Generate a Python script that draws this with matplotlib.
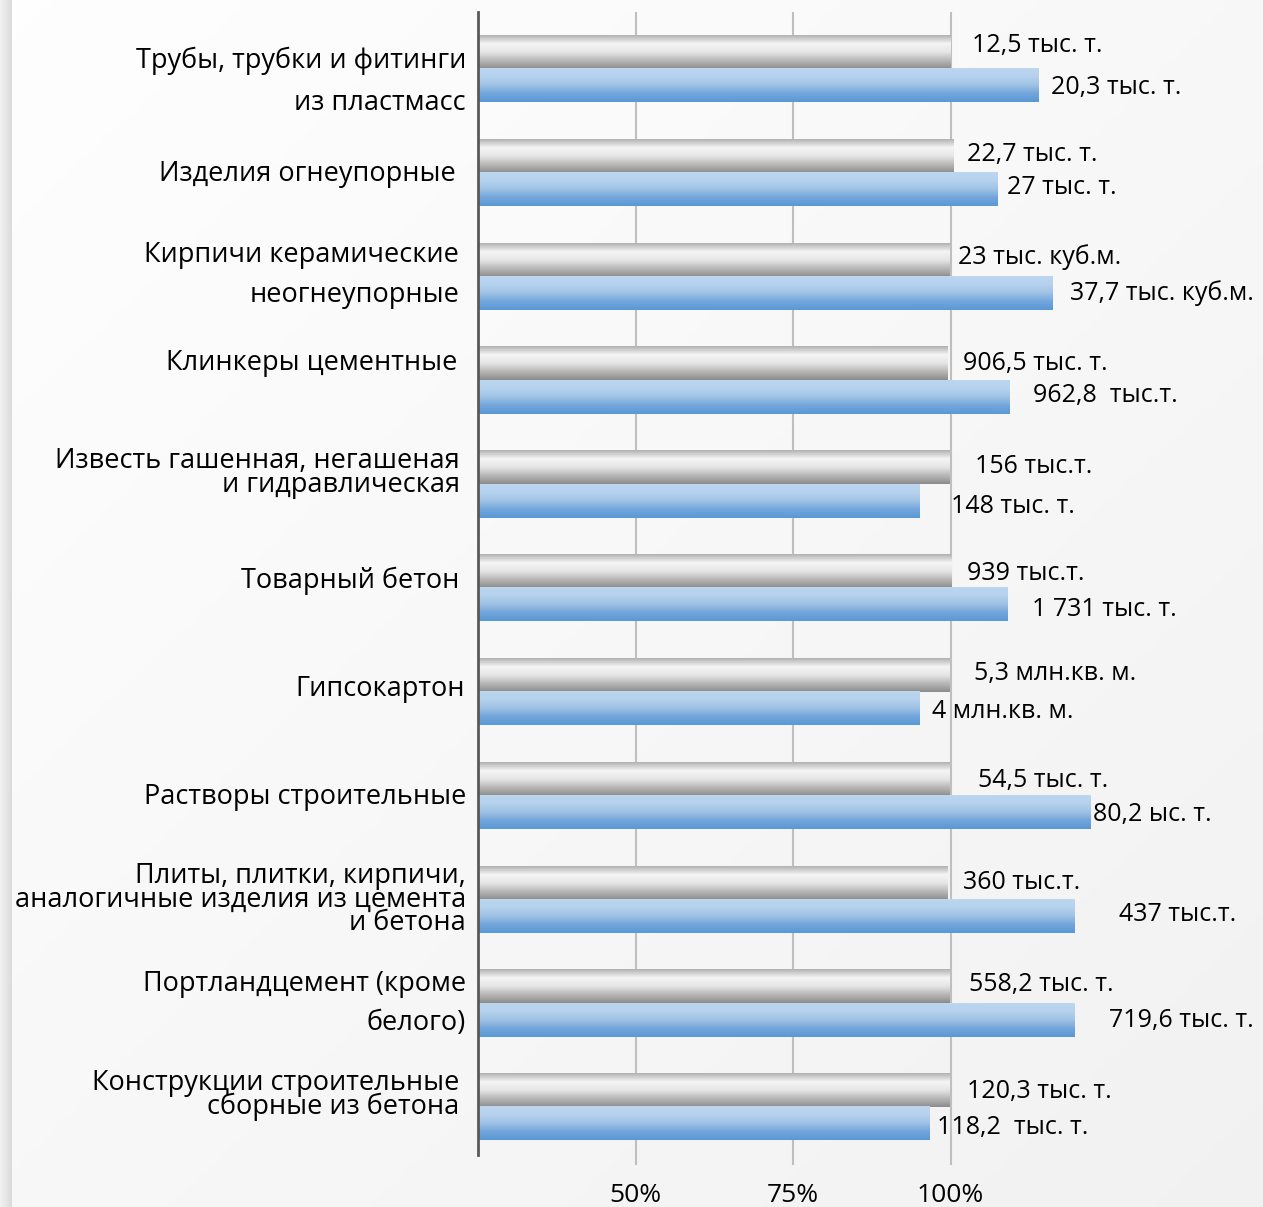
import numpy as np
import matplotlib
matplotlib.use("Agg")
import matplotlib.pyplot as plt

plt.rcParams['font.family'] = ['Open Sans', 'DejaVu Sans']

# категории (сверху вниз)
categories = [
    "Трубы, трубки и фитинги\nиз пластмасс",
    "Изделия огнеупорные",
    "Кирпичи керамические\nнеогнеупорные",
    "Клинкеры цементные",
    "Известь гашенная, негашеная\nи гидравлическая",
    "Товарный бетон",
    "Гипсокартон",
    "Растворы строительные",
    "Плиты, плитки, кирпичи,\nаналогичные изделия из цемента\nи бетона",
    "Портландцемент (кроме\nбелого)",
    "Конструкции строительные\nсборные из бетона",
]
# прошлый год = 100%, текущий в % (читается с рисунка)
prev_pct = [100, 100.5, 99.8, 99.5, 99.8, 100.2, 99.8, 99.8, 99.6, 99.8, 99.8]
curr_pct = [114.0, 107.5, 116.2, 109.4, 95.1, 109.0, 95.1, 122.2, 119.7, 119.7, 96.7]
prev_labels = ["12,5 тыс. т.", "22,7 тыс. т.", "23 тыс. куб.м.", "906,5 тыс. т.",
               "156 тыс.т.", "939 тыс.т.", "5,3 млн.кв. м.", "54,5 тыс. т.",
               "360 тыс.т.", "558,2 тыс. т.", "120,3 тыс. т."]
curr_labels = ["20,3 тыс. т.", "27 тыс. т.", "37,7 тыс. куб.м.", "962,8  тыс.т.",
               "148 тыс. т.", "1 731 тыс. т.", "4 млн.кв. м.", "80,2 ыс. т.",
               "437 тыс.т.", "719,6 тыс. т.", "118,2  тыс. т."]
xticks = [50, 75, 100]
xtick_labels = ["50%", "75%", "100%"]

# раскладка подписей (пиксели)
prev_dx = [21, 13, 9, 16, 26, 15, 25, 29, 15, 20, 18]
prev_dy = [-7, -2, -3, 0, -1, 2, -2, 1, 0, -2, 1]
curr_dx = [12, 9, 17, 23, 31, 25, 12, 3, 44, 34, 7]
curr_dy = [2, -2, 0, -2, 6, 5, 3, 2, -2, 0, 4]
cat_dx = [-12, -22, -19, -21, -18, -19, -13, -12, -12, -12, -19]
cat_dy = [13, 1, -2, -17, -11, -7, -3, 1, 0, 0, -12]
cat_ls = [1.64, 1, 1.56, 1, 0.8, 1, 1, 1, 0.8, 1.52, 0.8]

W, H = 1263, 1207
fig = plt.figure(figsize=(W / 100, H / 100), dpi=100)

# фон
bg = fig.add_axes([0, 0, 1, 1], zorder=-10)
yy, xx = np.mgrid[0:1:200j, 0:1:200j]
t = (xx + yy) / 2
col = 0.997 - 0.05 * t
bg.imshow(np.dstack([col, col, col]), extent=(0, 1, 0, 1), origin='upper', aspect='auto')
sh = np.linspace(0.95, 0.86, 20)
shade = np.dstack([sh, sh, sh]).repeat(2, axis=0)
bg.imshow(shade, extent=(0, 12 / W, 0, 1), aspect='auto')
bg.set_xlim(0, 1)
bg.set_ylim(0, 1)
bg.axis('off')

x0_px, px_per_pct = 478, 6.3
top_px, bot_px = 12, 1155
ax = fig.add_axes([x0_px / W, 1 - bot_px / H, 125 * px_per_pct / W, (bot_px - top_px) / H])
ax.set_facecolor('none')

y = np.arange(len(categories))
h = 0.32
b_prev = ax.barh(y - h / 2, [v - 25 for v in prev_pct], left=25, height=h,
                 color='none', edgecolor='none', zorder=3)
b_curr = ax.barh(y + h / 2, [v - 25 for v in curr_pct], left=25, height=h,
                 color='none', edgecolor='none', zorder=3)

gray_stops = np.array([[0.70, 0.70, 0.70], [0.96, 0.96, 0.96], [0.90, 0.90, 0.90],
                       [0.72, 0.72, 0.72], [0.55, 0.55, 0.55]])
blue_stops = np.array([[0.74, 0.84, 0.94], [0.71, 0.82, 0.93], [0.62, 0.76, 0.90],
                       [0.45, 0.65, 0.86], [0.35, 0.60, 0.84]])


def grad(stops, n=60):
    pos = np.linspace(0, 1, len(stops))
    tt = np.linspace(0, 1, n)
    g = np.stack([np.interp(tt, pos, stops[:, c]) for c in range(3)], axis=1)
    return g[:, None, :]


for bars, stops in ((b_prev, gray_stops), (b_curr, blue_stops)):
    img = grad(stops)
    for r in bars:
        x, yb, w, hh = r.get_x(), r.get_y(), r.get_width(), r.get_height()
        ax.imshow(img, extent=(x, x + w, yb + hh, yb), origin='upper',
                  aspect='auto', zorder=3, interpolation='bilinear')

ax.set_xlim(25, 150)
ax.set_ylim(len(categories) - 1 + 0.46, -0.549)

ax.set_xticks(xticks)
ax.set_xticklabels(xtick_labels, fontsize=19)
ax.tick_params(axis='x', length=7, color='#bfbfbf', width=1.5, pad=13, labelcolor='black')
ax.set_yticks([])
ax.grid(axis='x', color='#bfbfbf', linewidth=1.5, zorder=1)
for s in ('top', 'right', 'bottom'):
    ax.spines[s].set_visible(False)
ax.spines['left'].set_color('#595959')
ax.spines['left'].set_linewidth(2)
ax.spines['left'].set_zorder(5)

for i in range(len(categories)):
    ax.annotate(prev_labels[i], xy=(prev_pct[i], y[i] - h / 2),
                xytext=(prev_dx[i], -prev_dy[i]), textcoords='offset pixels',
                va='center', ha='left', fontsize=18, zorder=6)
    ax.annotate(curr_labels[i], xy=(curr_pct[i], y[i] + h / 2),
                xytext=(curr_dx[i], -curr_dy[i]), textcoords='offset pixels',
                va='center', ha='left', fontsize=18, zorder=6)
    ax.annotate(categories[i], xy=(25, y[i]),
                xytext=(cat_dx[i], -cat_dy[i]), textcoords='offset pixels',
                va='center', ha='right', multialignment='right',
                linespacing=cat_ls[i], fontsize=19.5, annotation_clip=False)

fig.savefig("out.png", dpi=100)
